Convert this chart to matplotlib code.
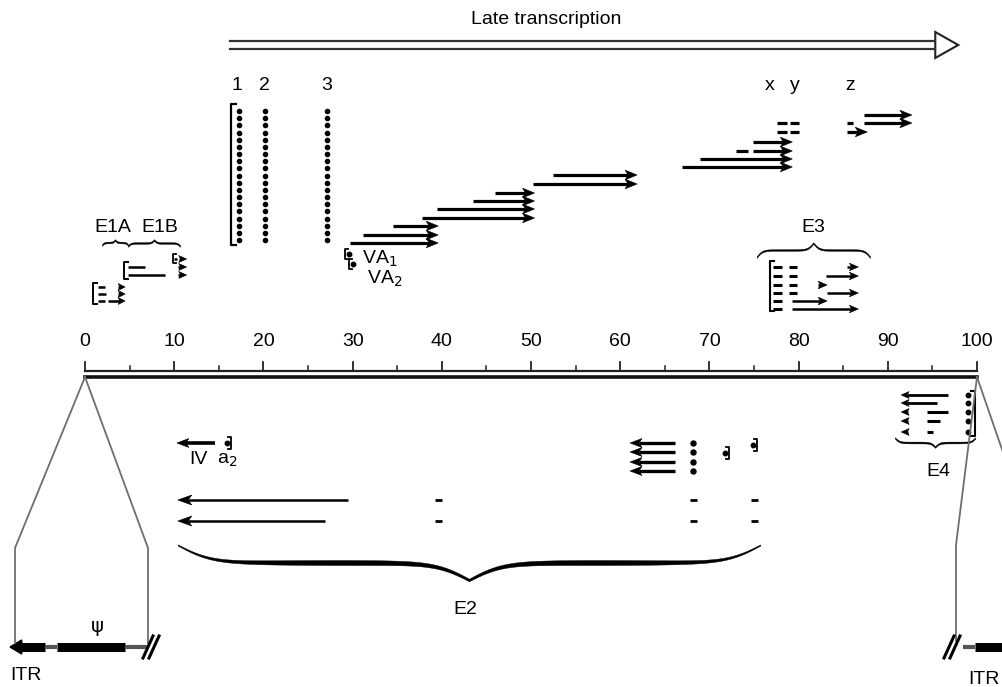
import matplotlib
matplotlib.use("Agg")
import matplotlib.pyplot as plt
import numpy as np
from matplotlib.patches import Polygon

# ---------------- data (map units 0-100; rows are vertical levels) -------------
TICKS = list(range(0, 101, 10))
MINOR = list(range(5, 100, 10))
LATE_SPAN = [16.3, 97.9]
LEADER_NAMES = ["1", "2", "3"]
LEADER_POS = [17.3, 20.2, 27.1]
LEADER_DOTS = 19
XYZ_NAMES = ["x", "y", "z"]
XYZ_POS = [76.8, 79.6, 85.8]

LATE_START = [29.7, 31.2, 34.5, 37.8, 39.5, 43.5, 46.0, 50.2, 52.5,
              66.9, 68.9, 74.9, 74.9, 85.4, 87.3, 87.3]
LATE_END = [39.6, 39.6, 39.6, 50.4, 50.4, 50.4, 50.4, 61.9, 61.9,
            79.3, 79.3, 79.3, 79.3, 87.7, 92.7, 92.7]
LATE_ROW = [243, 235, 226, 218, 209, 201, 193, 184, 175,
            167, 159, 151, 142, 132, 123, 115]
LATE_EXON_START = [73.0, 77.6, 79.0, 77.6, 79.0, 85.4]
LATE_EXON_END = [74.3, 78.7, 80.0, 78.7, 80.0, 86.1]
LATE_EXON_ROW = [151, 132, 132, 123, 123, 123]

E1A_ROW = [287, 294, 301]
E1A_EX1 = [(1.5, 2.2), (1.5, 2.4), (1.5, 2.2)]
E1A_EX2 = [(3.7, 4.5), (3.7, 4.5), (2.6, 4.5)]
E1B_ROW = [259, 267, 275]
E1B_EX1 = [(10.0, 10.3), (4.8, 6.7), (4.8, 9.0)]
E1B_EX2 = [(10.5, 11.4), (10.4, 11.4), (10.4, 11.4)]
VA_POS = [29.3, 29.7]
VA_ROW = [254, 264]

E3_ROW = [267, 276, 285, 293, 301, 309]
E3_EX1 = [(77.1, 78.1)] * 6
E3_EX2 = [(78.9, 79.8), (78.9, 79.8), (78.9, 79.8), (78.9, 79.8), None, None]
E3_ARROW = [(85.4, 86.7), (83.1, 86.7), (82.2, 83.2), (83.2, 86.7), (79.3, 83.2), (79.3, 86.7)]

E4_ROW = [395, 403, 412, 421, 432]
E4_ARROW = [(96.7, 91.5), (95.5, 91.5), (92.3, 91.5), (92.3, 91.5), (92.3, 91.5)]
E4_EXON = [None, None, (94.4, 96.7), (94.4, 95.9), (94.4, 95.1)]
E4_DOT = 99.0

IVA2_ARROW = (14.6, 10.3)
IVA2_ROW = 443
E2_LONG = [(29.5, 10.4), (26.9, 10.4)]
E2_LONG_ROW = [500, 521]
E2_EXON_POS = [39.6, 68.2, 75.0]
E2_SHORT_ROW = [443, 452, 462, 471]
E2_SHORT = (66.1, 61.1)
E2_DOT = 68.2
E2_BRDOT = [(71.7, 453), (74.9, 445)]

LEFT_BAR = [(-7.3, -4.5, 'k'), (-4.5, -3.1, 'g'), (-3.1, 4.5, 'k'), (4.5, 7.1, 'g')]
RIGHT_BAR = [(98.4, 99.8, 'g'), (99.8, 103.5, 'k')]

# ---------------- layout ------------------
W, H = 1003, 687
PX0, KPX = 85.0, 8.92

fig = plt.figure(figsize=(W / 100, H / 100), dpi=100)
ax = fig.add_axes([0, 0, 1, 1])
ax.set_xlim(-PX0 / KPX, (W - PX0) / KPX)
ax.set_ylim(H, 0)
ax.axis('off')

FONT = ['Liberation Sans', 'DejaVu Sans']
NARROW = ['Liberation Sans Narrow', 'Liberation Sans', 'DejaVu Sans']
FS = 14


def px(d):
    return d / KPX


def arrow(x0, x1, y, lw=2.3, hl=12, hw=4.8, color='k'):
    d = np.sign(x1 - x0)
    base = x1 - d * px(hl)
    notch = base + d * px(hl * 0.25)
    ax.plot([x0, notch], [y, y], color=color, lw=lw, solid_capstyle='butt')
    ax.add_patch(Polygon([[x1, y], [base, y - hw], [notch, y], [base, y + hw]],
                         closed=True, facecolor=color, edgecolor=color, lw=0.4))


def seg(x0, x1, y, lw=2.3, color='k'):
    ax.plot([x0, x1], [y, y], color=color, lw=lw, solid_capstyle='butt')


def bracket(x, y0, y1, side='left', tick=4, lw=1.4):
    t = px(tick)
    xs = [x + t, x, x, x + t] if side == 'left' else [x - t, x, x, x - t]
    ax.plot(xs, [y0, y0, y1, y1], color='k', lw=lw)


def brace(x0, x1, yb, h, beta, down=True, wmin=1.0, wmax=1.0):
    L = (x1 - x0) * KPX
    n = 600
    u = np.linspace(0, L / 2, n)
    f = 1 / (1 + np.exp(-beta * u)) + 1 / (1 + np.exp(-beta * (u - L / 2))) - 0.5
    f = (f - f[0]) / (f[-1] - f[0])
    s = u / (L / 2)
    w = wmin + (wmax - wmin) * np.sin(np.pi * s * 0.88)
    xs = np.concatenate([x0 + px(u), x1 - px(u[::-1])])
    ys = np.concatenate([f, f[::-1]])
    ws = np.concatenate([w, w[::-1]])
    sign = 1 if down else -1
    yc = yb + sign * h * ys
    ax.fill_between(xs, yc - ws / 2, yc + ws / 2, color='k', lw=0.3)


def brdot(x, y, side='right'):
    ax.plot([x], [y], 'o', color='k', ms=3.2)
    if side == 'right':
        bracket(x + px(4), y - 6, y + 6, side='right', tick=3, lw=1.3)
    else:
        bracket(x - px(4), y - 5, y + 5, side='left', tick=3, lw=1.3)


# ---- late transcription arrow ----
x0, x1 = LATE_SPAN
hb = x1 - px(23)
for yy in (41, 49):
    ax.plot([x0, hb], [yy, yy], color='#333333', lw=1.6)
ax.add_patch(Polygon([[hb, 32], [x1, 45], [hb, 58]], closed=True,
                     facecolor='white', edgecolor='#222222', lw=1.5))
ax.text(px(546 - 85), 19, "Late transcription", ha='center', va='center',
        fontsize=FS, family=FONT)

# ---- leader labels / dots ----
for name, xx in zip(LEADER_NAMES, [17.0, 20.1, 27.1]):
    ax.text(xx, 85, name, ha='center', va='center', fontsize=FS, family=FONT)
for xx in LEADER_POS:
    ax.plot([xx] * LEADER_DOTS, np.linspace(111, 240, LEADER_DOTS), 'o', color='k', ms=3.0)
bracket(LEADER_POS[0] - px(8), 104, 245, side='left', tick=5, lw=1.6)
for name, xx in zip(XYZ_NAMES, XYZ_POS):
    ax.text(xx, 85, name, ha='center', va='center', fontsize=FS, family=FONT)

for s, e, r in zip(LATE_START, LATE_END, LATE_ROW):
    arrow(s, e, r)
for s, e, r in zip(LATE_EXON_START, LATE_EXON_END, LATE_EXON_ROW):
    seg(s, e, r)

# ---- E1 ----
ax.text(1.5 + px(14), 227, "E1A", ha='center', va='center', fontsize=FS, family=FONT)
ax.text(8.4, 227, "E1B", ha='center', va='center', fontsize=FS, family=FONT)
brace(px(102 - 85), px(128 - 85), 245, 5, 0.9, down=False, wmin=1.6, wmax=1.6)
brace(px(128 - 85), px(180 - 85), 246, 6, 0.7, down=False, wmin=1.6, wmax=1.6)
bracket(0.9, 283, 304, side='left', tick=4, lw=1.4)
for r, e1, e2 in zip(E1A_ROW, E1A_EX1, E1A_EX2):
    seg(e1[0], e1[1], r, lw=1.8)
    arrow(e2[0], e2[1], r, lw=1.8, hl=7, hw=3.5)
bracket(4.4, 262, 279, side='left', tick=4, lw=1.4)
bracket(9.9, 254, 263, side='left', tick=3, lw=1.3)
for r, e1, e2 in zip(E1B_ROW, E1B_EX1, E1B_EX2):
    seg(e1[0], e1[1], r, lw=1.8)
    arrow(e2[0], e2[1], r, lw=1.8, hl=8, hw=3.5)

# ---- VA ----
for xx, r in zip(VA_POS, VA_ROW):
    brdot(xx + px(3), r, side='left')
ax.text(31.1, 259, "VA$_1$", ha='left', va='center', fontsize=FS, family=FONT)
ax.text(31.6, 279, "VA$_2$", ha='left', va='center', fontsize=FS, family=FONT)

# ---- E3 ----
ax.text(81.6, 228, "E3", ha='center', va='center', fontsize=FS, family=FONT)
brace(75.3, 88.0, 257, 14, 0.35, down=False, wmin=1.6, wmax=1.6)
bracket(76.8, 261, 311, side='left', tick=4, lw=1.5)
for r, a, b, c in zip(E3_ROW, E3_EX1, E3_EX2, E3_ARROW):
    seg(a[0], a[1], r, lw=2.2)
    if b is not None:
        seg(b[0], b[1], r, lw=2.2)
    arrow(c[0], c[1], r, lw=1.8, hl=9, hw=3.8)

# ---- ruler ----
ax.plot([0, 100], [371, 371], color='#222222', lw=1.6)
ax.plot([0, 100], [376.5, 376.5], color='#111111', lw=2.6)
for t in TICKS:
    ax.plot([t, t], [362, 371], color='#222222', lw=1.3)
    ax.text(t, 342, str(t), ha='center', va='center', fontsize=FS, family=NARROW)
for t in MINOR:
    ax.plot([t, t], [366, 371], color='#222222', lw=1.1)

# ---- E4 ----
for r, a, ex in zip(E4_ROW, E4_ARROW, E4_EXON):
    arrow(a[0], a[1], r, lw=2.0, hl=8, hw=3.5)
    if ex is not None:
        seg(ex[0], ex[1], r, lw=2.2)
    ax.plot([E4_DOT], [r], 'o', color='k', ms=3.2)
bracket(99.8, 391, 436, side='right', tick=4, lw=1.5)
brace(90.8, 99.8, 438, 9, 0.45, down=True, wmin=1.5, wmax=1.8)
ax.text(95.7, 471, "E4", ha='center', va='center', fontsize=FS, family=FONT)

# ---- E2 ----
arrow(IVA2_ARROW[0], IVA2_ARROW[1], IVA2_ROW, lw=2.6, hl=12, hw=4.5)
ax.text(px(189 - 85), 460, "IV", ha='left', va='center', fontsize=FS, family=FONT)
ax.text(px(217 - 85), 460, "a$_2$", ha='left', va='center', fontsize=FS, family=FONT)
brdot(px(227 - 85), 443)
for (s, e), r in zip(E2_LONG, E2_LONG_ROW):
    arrow(s, e, r, lw=1.8, hl=14, hw=5)
    for xx in E2_EXON_POS:
        seg(xx - px(3.5), xx + px(3.5), r, lw=2.0)
for r in E2_SHORT_ROW:
    arrow(E2_SHORT[0], E2_SHORT[1], r, lw=2.4, hl=12, hw=4.5)
    ax.plot([E2_DOT], [r], 'o', color='k', ms=3.6)
for xx, r in E2_BRDOT:
    brdot(xx, r)
brace(10.4, 75.7, 545, 35, 0.06, down=True, wmin=1.2, wmax=5.0)
ax.text(42.6, 610, "E2", ha='center', va='center', fontsize=FS, family=FONT)

# ---- zoom lines to genome ends ----
GRAY = '#6e6e6e'
for xs, ys in [
    ([0, px(15 - 85), px(15 - 85)], [377, 548, 643]),
    ([0, px(148 - 85), px(148 - 85)], [377, 548, 643]),
    ([100, px(956 - 85), px(956 - 85)], [377, 545, 641]),
    ([100, px(1035 - 85)], [377, 545]),
]:
    ax.plot(xs, ys, color=GRAY, lw=1.3)

# left end
for a, b, c in LEFT_BAR:
    if c == 'k':
        seg(a, b, 647, lw=6.5, color='k')
    else:
        seg(a, b, 647, lw=3.0, color='#555555')
ax.add_patch(Polygon([[px(10 - 85), 647], [-7.1, 640], [-7.1, 654]], closed=True,
                     facecolor='k', edgecolor='k'))
for dx in (0, 6):
    ax.plot([px(143 - 85 + dx), px(153 - 85 + dx)], [658, 636], color='k', lw=2.2)
ax.text(px(97 - 85), 626, "ψ", ha='center', va='center', fontsize=FS, family=['DejaVu Sans'])
ax.text(px(10 - 85), 676, "ITR", ha='left', va='center', fontsize=FS, family=FONT)

# right end
for a, b, c in RIGHT_BAR:
    if c == 'k':
        seg(a, b, 647, lw=6.5, color='k')
    else:
        seg(a, b, 647, lw=3.0, color='#555555')
for dx in (0, 6):
    ax.plot([px(944 - 85 + dx), px(954 - 85 + dx)], [658, 636], color='k', lw=2.2)
ax.text(px(968 - 85), 679, "ITR", ha='left', va='center', fontsize=FS, family=FONT)

fig.savefig("out.png", dpi=100)
